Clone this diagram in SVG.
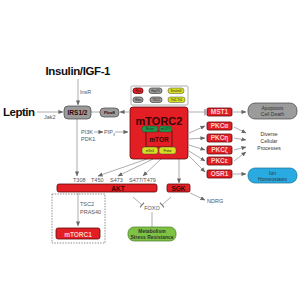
<svg xmlns="http://www.w3.org/2000/svg" width="300" height="300" viewBox="0 0 300 300">
<defs>
<marker id="ah" viewBox="0 0 6 6" refX="5.5" refY="3" markerWidth="5" markerHeight="5" orient="auto" markerUnits="userSpaceOnUse"><path d="M0,0.5 L6,3 L0,5.5 z" fill="#666"/></marker>
<marker id="tb" viewBox="0 0 2 8" refX="1" refY="4" markerWidth="2" markerHeight="7" orient="auto" markerUnits="userSpaceOnUse"><rect x="0.4" y="0" width="1.2" height="8" fill="#777"/></marker>
</defs>
<style>
text{font-family:"Liberation Sans",Arial,sans-serif}
.big{font-size:11.5px;font-weight:bold;fill:#111}
.sm{font-size:5.5px;fill:#555}
.ln{stroke:#777;stroke-width:0.6;fill:none}
.ar{marker-end:url(#ah)}
.tbar{marker-end:url(#tb)}
.red{fill:#e31e24;stroke:#5a0a0a;stroke-width:0.8}
.grey{fill:#9b9b9b;stroke:#444;stroke-width:0.7}
.yel{fill:#d7df23;stroke:#444;stroke-width:0.5}
.grn{fill:#1f9a4a;stroke:#333;stroke-width:0.5}
.kt{font-size:6.5px;font-weight:bold;fill:#fbd0d0;text-anchor:middle}
.dk{font-weight:bold;fill:#3a0505;text-anchor:middle}
.pt{font-size:3px;fill:#222;text-anchor:middle}
.lt{font-size:5px;fill:#333;text-anchor:middle}
</style>
<g id="connectors">
<line class="ln ar" x1="78" y1="79" x2="78" y2="105"/>
<line class="ln ar" x1="37" y1="112" x2="63" y2="112"/>
<line class="ln" x1="91" y1="112" x2="100" y2="112"/>
<line class="ln ar" x1="129" y1="112" x2="120" y2="112"/>
<line class="ln ar" x1="77" y1="119" x2="77" y2="176"/>
<line class="ln ar" x1="94" y1="132" x2="103" y2="132"/>
<line class="ln ar" x1="115" y1="132" x2="128" y2="132"/>
<line class="ln tbar" x1="189" y1="112" x2="205" y2="112"/>
<line class="ln ar" x1="233" y1="112" x2="246" y2="112"/>
<line class="ln ar" x1="189" y1="133" x2="205" y2="126"/>
<line class="ln ar" x1="189" y1="139" x2="205" y2="138"/>
<line class="ln ar" x1="189" y1="145" x2="205" y2="150"/>
<line class="ln ar" x1="189" y1="151" x2="205" y2="161"/>
<line class="ln ar" x1="189" y1="156" x2="205" y2="172"/>
<line class="ln ar" x1="234" y1="127" x2="246" y2="133"/>
<line class="ln ar" x1="234" y1="138" x2="246" y2="140"/>
<line class="ln ar" x1="234" y1="150" x2="246" y2="147"/>
<line class="ln ar" x1="234" y1="161" x2="246" y2="152"/>
<line class="ln ar" x1="233" y1="174" x2="246" y2="174"/>
<line class="ln ar" x1="147" y1="159" x2="98" y2="176"/>
<line class="ln ar" x1="153" y1="159" x2="118" y2="176"/>
<line class="ln ar" x1="161" y1="159" x2="143" y2="176"/>
<line class="ln ar" x1="179" y1="159" x2="179" y2="183"/>
<line class="ln ar" x1="190" y1="193" x2="205" y2="200"/>
<line class="ln tbar" x1="133" y1="197" x2="142" y2="205"/>
<line class="ln tbar" x1="171" y1="197" x2="162" y2="205"/>
<line class="ln" x1="152" y1="212" x2="152" y2="227"/>
<line class="ln ar" x1="78" y1="193" x2="78" y2="226"/>
</g>
<g id="insulin"><text class="big" x="78" y="75" text-anchor="middle" textLength="65">Insulin/IGF-1</text><text class="sm" x="80" y="94">InsR</text></g>
<g id="leptin"><text class="big" x="3" y="116" textLength="32">Leptin</text><text class="sm" x="44" y="119">Jak2</text></g>
<g id="irs"><rect class="grey" x="64" y="106" width="27" height="13" rx="4"/><text class="dk" x="77.5" y="114.8" font-size="6.5" fill="#222">IRS1/2</text></g>
<g id="fbw8"><rect class="grey" x="100" y="108" width="19" height="9" rx="4"/><text class="dk" x="109.5" y="114" font-size="4.3">Fbw8</text></g>
<g id="pi3k"><text class="sm" x="81" y="134">PI3K</text><text class="sm" x="81" y="141">PDK1</text><text class="sm" x="104" y="134">PIP<tspan font-size="3.5" dy="1.5">3</tspan></text></g>
<g id="regulators">
<rect x="131" y="86" width="57" height="19" rx="1" fill="#fff" stroke="#999" stroke-width="0.8"/>
<rect class="red" x="133" y="88" width="10" height="5.5" rx="2.5"/><text class="pt" x="138" y="91.8" fill="#fcc">Ras</text>
<rect class="grey" x="149" y="88" width="13" height="5.5" rx="2.5"/><text class="pt" x="155.5" y="91.8">Hsp70</text>
<rect class="yel" x="168" y="88" width="16" height="5.5" rx="2.5"/><text class="pt" x="176" y="91.8">Sestrin3</text>
<rect class="grey" x="133" y="97" width="10" height="5.5" rx="2.5"/><text class="pt" x="138" y="100.8">Ribo</text>
<rect class="grey" x="150" y="97" width="12" height="5.5" rx="2.5"/><text class="pt" x="156" y="100.8">TSC2</text>
<rect class="yel" x="168" y="97" width="17" height="5.5" rx="2.5"/><text class="pt" x="176.5" y="100.8">Tel2-Tti1</text>
</g>
<g id="mtorc2">
<rect class="red" x="130" y="107" width="58" height="52" rx="3"/>
<text class="dk" x="159" y="124.5" font-size="11">mTORC2</text>
<rect class="red" x="146" y="131" width="26" height="16"/>
<text class="dk" x="159" y="141.5" font-size="6.5">mTOR</text>
<rect class="grn" x="142" y="126" width="16" height="6" rx="2.5"/><text class="pt" x="150" y="130" fill="#cfe">Rictor</text>
<rect class="grn" x="159" y="126" width="13" height="6" rx="2.5"/><text class="pt" x="165.5" y="130" fill="#cfe">mLST8</text>
<rect class="yel" x="142" y="147" width="16" height="7" rx="2.5"/><text class="pt" x="150" y="151.5">mSin1</text>
<rect class="yel" x="159" y="147" width="17" height="7" rx="2.5"/><text class="pt" x="167.5" y="151.5">Protor</text>
</g>
<g id="mst1"><rect class="red" x="207" y="108" width="25" height="8" rx="1.5"/><text class="kt" x="219.5" y="114.3">MST1</text></g>
<g id="pkca"><rect class="red" x="207" y="122" width="25" height="8" rx="1.5"/><text class="kt" x="219.5" y="128.3">PKCα</text></g>
<g id="pkch"><rect class="red" x="207" y="134" width="25" height="8" rx="1.5"/><text class="kt" x="219.5" y="140.3">PKCη</text></g>
<g id="pkcz"><rect class="red" x="207" y="146" width="25" height="8" rx="1.5"/><text class="kt" x="219.5" y="152.3">PKCζ</text></g>
<g id="pkce"><rect class="red" x="207" y="157" width="25" height="8" rx="1.5"/><text class="kt" x="219.5" y="163.3">PKCε</text></g>
<g id="osr1"><rect class="red" x="207" y="170" width="25" height="8" rx="1.5"/><text class="kt" x="219.5" y="176.3">OSR1</text></g>
<g id="apoptosis"><rect class="grey" x="248" y="103" width="49" height="16" rx="7" stroke="#777"/><text class="lt" x="272.5" y="110">Apoptosis</text><text class="lt" x="272.5" y="116">Cell Death</text></g>
<g id="diverse"><text class="lt" x="269" y="136" font-size="5.5">Diverse</text><text class="lt" x="269" y="143" font-size="5.5">Cellular</text><text class="lt" x="269" y="150" font-size="5.5">Processes</text></g>
<g id="ion"><rect x="248" y="168" width="49" height="15" rx="7" fill="#29abe2" stroke="#1a6f94" stroke-width="0.7"/><text class="lt" x="272.5" y="174.5" fill="#123">Ion</text><text class="lt" x="272.5" y="180.5" fill="#123">Homeostasis</text></g>
<g id="sites"><text class="sm" x="73" y="182">T308</text><text class="sm" x="91" y="182">T450</text><text class="sm" x="110" y="182">S473</text><text class="sm" x="129" y="182">S477/T479</text></g>
<g id="akt"><rect class="red" x="57" y="184" width="100" height="8" rx="2"/><text class="dk" x="118" y="190.5" font-size="6.5">AKT</text></g>
<g id="sgk"><rect class="red" x="167" y="184" width="23" height="8" rx="1.5"/><text class="dk" x="178.5" y="190.5" font-size="6.5">SGK</text></g>
<g id="ndrg"><text class="sm" x="207" y="203">NDRG</text></g>
<g id="foxo"><text class="sm" x="152" y="209.5" text-anchor="middle">FOXO</text></g>
<g id="metabolism"><rect x="128" y="227" width="48" height="14" rx="6" fill="#7dc242" stroke="#4a7a2a" stroke-width="0.7"/><text class="lt" x="152" y="233" font-weight="bold" font-size="4.8" fill="#1a3a0a">Metabolism</text><text class="lt" x="152" y="238.8" font-weight="bold" font-size="4.8" fill="#1a3a0a">Stress Resistance</text></g>
<g id="mtorc1">
<rect x="52" y="194" width="53" height="49" fill="none" stroke="#444" stroke-width="0.6" stroke-dasharray="1.5 1.2"/>
<text class="sm" x="80" y="206">TSC2</text><text class="sm" x="80" y="214">PRAS40</text>
<rect class="red" x="56" y="228" width="44" height="11" rx="2" stroke="#300" stroke-width="1"/>
<text class="kt" x="78" y="236.8" font-size="8.5">mTORC1</text>
</g>
</svg>
